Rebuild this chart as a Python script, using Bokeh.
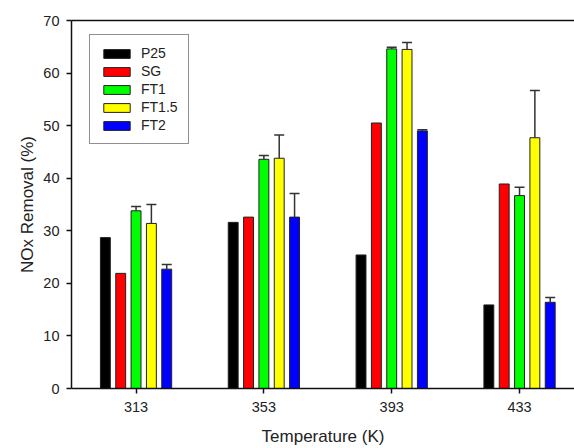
from bokeh.plotting import figure
from bokeh.models import (Range1d, FixedTicker, LinearAxis, Whisker, TeeHead,
                          ColumnDataSource, Legend, LegendItem)
from bokeh.transform import dodge
from bokeh.embed import file_html
from bokeh.resources import INLINE

temps = [313, 353, 393, 433]
series = ["P25", "SG", "FT1", "FT1.5", "FT2"]
colors = ["#000000", "#ff0000", "#00ff00", "#ffff00", "#0000ff"]

p25 = [28.7, 31.6, 25.4, 15.9]
sg = [21.9, 32.6, 50.5, 38.9]
ft1 = [33.8, 43.6, 64.6, 36.7]
ft15 = [31.4, 43.8, 64.5, 47.7]
ft2 = [22.7, 32.6, 49.0, 16.4]

err_ft1 = [0.8, 0.7, 0.3, 1.6]
err_ft15 = [3.6, 4.4, 1.3, 9.0]
err_ft2 = [0.9, 4.5, 0.2, 0.9]

y_ticks = [0, 10, 20, 30, 40, 50, 60, 70]

values = [p25, sg, ft1, ft15, ft2]
errors = {"FT1": err_ft1, "FT1.5": err_ft15, "FT2": err_ft2}

data = {"temp": temps}
for name, vals in zip(series, values):
    data[name] = vals
for name, errs in errors.items():
    base = data[name]
    data[name + "_hi"] = [v + e for v, e in zip(base, errs)]
src = ColumnDataSource(data)

FONT = "Liberation Sans"

p = figure(width=574, height=448, x_range=Range1d(292.8, 450.2),
           y_range=Range1d(0, 70), output_backend="svg", toolbar_location=None,
           min_border_left=71, min_border_top=20, min_border_bottom=59,
           min_border_right=0)
p.outline_line_color = None
p.xgrid.visible = False
p.ygrid.visible = False
p.background_fill_color = "white"
p.border_fill_color = "white"

pitch = 4.8
bar_w = 3.1
items = []
for i, (name, col) in enumerate(zip(series, colors)):
    r = p.vbar(x=dodge("temp", (i - 2) * pitch), top=name, width=bar_w,
               source=src, fill_color=col, line_color="#222222", line_width=1)
    items.append(LegendItem(label=name, renderers=[r]))

for i, name in enumerate(series):
    if name in errors:
        w = Whisker(base=dodge("temp", (i - 2) * pitch), upper=name + "_hi",
                    lower=name, source=src, dimension="height",
                    line_color="#333333", line_width=1.5,
                    lower_head=None,
                    upper_head=TeeHead(size=10, line_color="#333333", line_width=1.5),
                    level="overlay")
        p.add_layout(w)

# axes
xa = p.xaxis[0]
xa.ticker = FixedTicker(ticks=temps)
xa.axis_label = "Temperature (K)"
ya = p.yaxis[0]
ya.ticker = FixedTicker(ticks=y_ticks)
ya.axis_label = "NOx Removal (%)"
for ax in (xa, ya):
    ax.axis_line_width = 1.5
    ax.axis_line_color = "#111111"
    ax.major_tick_line_width = 1.5
    ax.major_tick_line_color = "#111111"
    ax.major_tick_out = 5
    ax.major_tick_in = 0
    ax.minor_tick_line_color = None
    ax.major_label_text_font = FONT
    ax.major_label_text_font_size = "14.5px"
    ax.major_label_text_color = "#222222"
    ax.major_label_standoff = 7
    ax.axis_label_text_font = FONT
    ax.axis_label_text_font_size = "17px"
    ax.axis_label_text_font_style = "normal"
    ax.axis_label_text_color = "#222222"
xa.major_label_standoff = 8
xa.axis_label_standoff = 12
ya.axis_label_standoff = 3

top = LinearAxis(ticker=FixedTicker(ticks=[]), major_label_text_font_size="0px",
                 axis_line_width=1.5, axis_line_color="#111111",
                 major_tick_out=0, major_tick_in=0, minor_tick_out=0, minor_tick_in=0,
                 major_label_standoff=0)
p.add_layout(top, "above")

legend = Legend(items=items, location=(18, 244), label_text_font=FONT,
                label_text_font_size="14px", label_text_color="#222222",
                glyph_width=33, glyph_height=11, label_height=16, spacing=2,
                padding=10, margin=0, label_standoff=8,
                border_line_color="#222222", border_line_width=1.5,
                background_fill_color="white", background_fill_alpha=1)
p.add_layout(legend)

open("out.html", "w").write(file_html(p, INLINE))
